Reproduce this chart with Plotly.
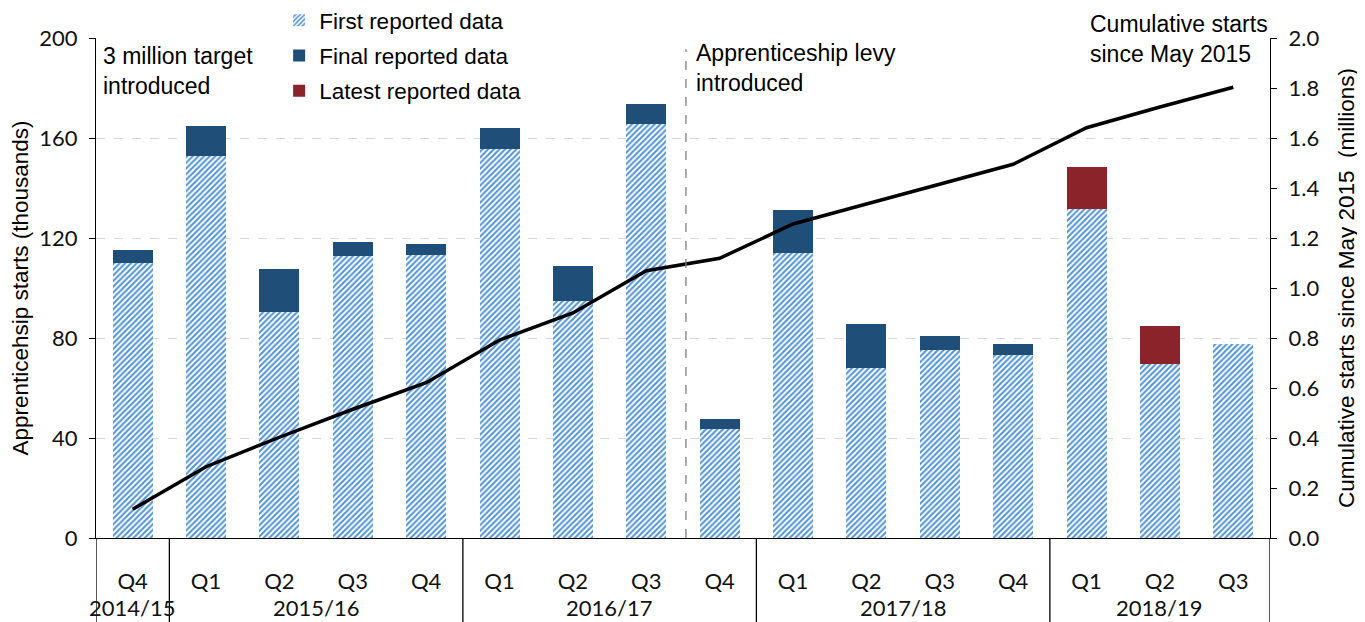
import plotly.graph_objects as go

# ---- data ----
years = ["2014/15", "2015/16", "2015/16", "2015/16", "2015/16",
         "2016/17", "2016/17", "2016/17", "2016/17",
         "2017/18", "2017/18", "2017/18", "2017/18",
         "2018/19", "2018/19", "2018/19"]
quarters = ["Q4", "Q1", "Q2", "Q3", "Q4",
            "Q1", "Q2", "Q3", "Q4",
            "Q1", "Q2", "Q3", "Q4",
            "Q1", "Q2", "Q3"]
first_reported = [109.9, 152.9, 90.5, 112.8, 113.1,
                  155.5, 94.8, 165.6, 43.6,
                  114.2, 68.0, 75.1, 73.2,
                  131.6, 69.6, 77.5]
final_reported = [5.2, 12.0, 17.0, 5.6, 4.4,
                  8.4, 14.1, 7.9, 4.1,
                  16.9, 17.5, 5.6, 4.4,
                  None, None, None]
latest_reported = [None, None, None, None, None,
                   None, None, None, None,
                   None, None, None, None,
                   16.9, 15.1, None]
cumulative_millions = [0.115, 0.285, 0.403, 0.515, 0.621,
                       0.792, 0.900, 1.069, 1.119,
                       1.256, 1.336, 1.414, 1.495,
                       1.641, 1.724, 1.803]
levy_position = 7.5  # between 2016/17 Q3 and Q4

xpos = list(range(len(quarters)))

TICKFONT = dict(family="Lato, sans-serif", size=22, color="#111")
TXTFONT = dict(family="Liberation Sans, Arial, sans-serif", size=23, color="#000")
TITLEFONT = dict(family="Liberation Sans, Arial, sans-serif", size=22.5, color="#000")

fig = go.Figure()
fig.add_trace(go.Bar(
    x=xpos, y=first_reported, name="First reported data",
    marker=dict(color="white", line=dict(width=0),
                pattern=dict(shape="/", fgcolor="#5394d6", bgcolor="white",
                             size=4, solidity=0.52, fillmode="replace")),
    legendgroup="a"))
fig.add_trace(go.Bar(
    x=xpos, y=final_reported, name="Final reported data",
    marker=dict(color="#1f4e79", line=dict(width=0)), legendgroup="b"))
fig.add_trace(go.Bar(
    x=xpos, y=latest_reported, name="Latest reported data",
    marker=dict(color="#8b232a", line=dict(width=0)), legendgroup="c"))
fig.add_trace(go.Scatter(
    x=xpos, y=cumulative_millions, yaxis="y2", mode="lines",
    line=dict(color="black", width=3.5), showlegend=False))

fig.update_layout(
    width=1365, height=622,
    margin=dict(l=88, r=103, t=30, b=92, autoexpand=False),
    paper_bgcolor="white", plot_bgcolor="white",
    barmode="stack", bargap=0.455,
    font=TXTFONT,
    legend=dict(x=0.156, y=1.078, xanchor="left", yanchor="top",
                bgcolor="rgba(0,0,0,0)", font=dict(family=TXTFONT["family"], size=22.5),
                tracegroupgap=3, traceorder="grouped", itemwidth=30),
    xaxis=dict(range=[-0.5, len(quarters) - 0.5], tickvals=xpos, ticktext=quarters,
               showline=True, linecolor="black", linewidth=1.3,
               ticks="", tickfont=TICKFONT, ticklabelstandoff=23,
               showgrid=False, zeroline=False, automargin=False),
    yaxis=dict(range=[0, 200], dtick=40, showline=True, linecolor="black", linewidth=1.3,
               ticks="outside", ticklen=6, tickcolor="black", tickfont=TICKFONT,
               ticklabelstandoff=7,
               showgrid=True, gridcolor="#d9d9d9", griddash="dash", gridwidth=1.3,
               zeroline=False, automargin=False,
               title=dict(text="Apprenticehsip starts (thousands)", font=TITLEFONT, standoff=5)),
    yaxis2=dict(range=[0, 2.0], dtick=0.2, tickformat=".1f", overlaying="y", side="right",
                showline=True, linecolor="black", linewidth=1.3,
                ticks="outside", ticklen=6, tickcolor="black", tickfont=TICKFONT,
                ticklabelstandoff=7,
                showgrid=False, zeroline=False, automargin=False,
                title=dict(text="Cumulative starts since May 2015  (millions)", font=TITLEFONT,
                           standoff=19)),
)

# year group labels and dividers under the axis
bounds = [-0.5]
groups = []
start = 0
for i in range(1, len(years) + 1):
    if i == len(years) or years[i] != years[start]:
        groups.append((years[start], (start + i - 1) / 2))
        bounds.append(i - 0.5)
        start = i
for b in bounds:
    fig.add_shape(type="line", xref="x", yref="paper", x0=b, x1=b, y0=0, y1=-0.17,
                  line=dict(color="black", width=1.3))
for label, center in groups:
    fig.add_annotation(xref="x", yref="paper", x=center, y=-0.138, yanchor="middle",
                       text=label, showarrow=False, font=TICKFONT)

# levy divider line
fig.add_shape(type="line", xref="x", yref="y", x0=levy_position + 0.04, x1=levy_position + 0.04,
              y0=0, y1=195.5, line=dict(color="#808080", width=1.3, dash="dash"))

fig.add_annotation(xref="paper", yref="paper", x=0.004, y=0.994, xanchor="left", yanchor="top",
                   text="3 million target<br>introduced", showarrow=False, align="left",
                   font=TXTFONT)
fig.add_annotation(xref="paper", yref="paper", x=0.509, y=1.0, xanchor="left", yanchor="top",
                   text="Apprenticeship levy<br>introduced", showarrow=False, align="left",
                   font=TXTFONT)
fig.add_annotation(xref="paper", yref="paper", x=0.845, y=1.058, xanchor="left", yanchor="top",
                   text="Cumulative starts<br>since May 2015", showarrow=False, align="left",
                   font=TXTFONT)

fig.write_html("out.html")
